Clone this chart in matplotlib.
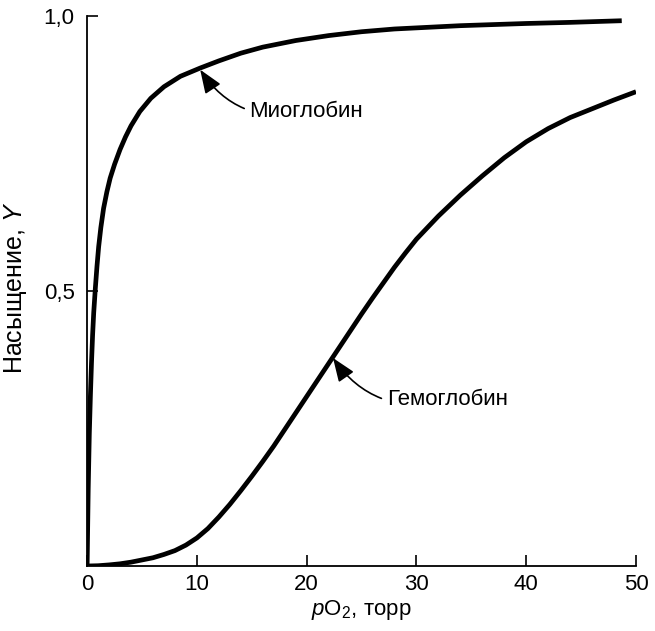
import numpy as np
import matplotlib
matplotlib.use("Agg")
import matplotlib.pyplot as plt

plt.rcParams['font.family'] = ['Liberation Sans', 'DejaVu Sans']
plt.rcParams['mathtext.fontset'] = 'custom'
plt.rcParams['mathtext.rm'] = 'Liberation Sans'
plt.rcParams['mathtext.it'] = 'Liberation Sans:italic'

# --- data (pO2 in torr, saturation Y) ---
mb_p = [0, 0.1, 0.2, 0.3, 0.4, 0.5, 0.6, 0.75, 0.9, 1.05, 1.25, 1.5, 1.8, 2.1,
        2.5, 3.0, 3.5, 4.0, 4.8, 5.8, 7.0, 8.5, 10.3, 12, 14, 16, 19, 22, 25,
        28, 31, 34, 37, 40, 44, 48.7]
mb_y = [0, 0.14, 0.24, 0.31, 0.37, 0.42, 0.46, 0.505, 0.545, 0.58, 0.615, 0.65,
        0.68, 0.705, 0.73, 0.757, 0.78, 0.80, 0.826, 0.85, 0.871, 0.89, 0.905,
        0.918, 0.932, 0.943, 0.955, 0.964, 0.971, 0.976, 0.979, 0.982, 0.984,
        0.986, 0.988, 0.991]

hb_p = [0, 1, 2, 3, 4, 5, 6, 7, 8, 9, 10, 11, 12, 13, 14, 15, 16, 17, 18, 19,
        20, 21, 22, 23, 24, 25, 26, 27, 28, 29, 30, 32, 34, 36, 38, 40, 42, 44,
        46, 48, 50]
hb_y = [0, 0.0005, 0.002, 0.004, 0.007, 0.011, 0.015, 0.021, 0.028, 0.038,
        0.051, 0.068, 0.089, 0.112, 0.137, 0.163, 0.19, 0.218, 0.248, 0.278,
        0.308, 0.338, 0.368, 0.398, 0.428, 0.458, 0.487, 0.515, 0.543, 0.569,
        0.594, 0.636, 0.674, 0.709, 0.742, 0.771, 0.795, 0.815, 0.831, 0.847,
        0.862]

x_ticks = [0, 10, 20, 30, 40, 50]
y_ticks = [0.5, 1.0]
y_tick_labels = ['0,5', '1,0']

fs = 16

fig = plt.figure(figsize=(6.55, 6.31), dpi=100)
ax = fig.add_axes([0.133, 0.103, 0.838, 0.872])

ax.plot(mb_p, mb_y, color='black', lw=3.4, solid_capstyle='butt', solid_joinstyle='round')
ax.plot(hb_p, hb_y, color='black', lw=3.4, solid_capstyle='butt', solid_joinstyle='round')

ax.set_xlim(0, 50)
ax.set_ylim(0, 1.0)
ax.spines['top'].set_visible(False)
ax.spines['right'].set_visible(False)
for s in ['left', 'bottom']:
    ax.spines[s].set_linewidth(1.3)

ax.set_xticks(x_ticks)
ax.set_yticks(y_ticks)
ax.set_yticklabels(y_tick_labels)
ax.tick_params(axis='x', direction='in', length=8, width=1.2, labelsize=fs, pad=6)
ax.tick_params(axis='y', direction='in', length=8, width=1.2, labelsize=fs, pad=9)

ax.set_xlabel(r'$\it{p}$O$_2$, торр', fontsize=fs, labelpad=2)
ax.set_ylabel(r'Насыщение, $\it{Y}$', fontsize=18)
ax.yaxis.set_label_coords(-0.105, 0.505)

arrow = dict(arrowstyle='-|>,head_length=0.9,head_width=0.35', color='black', lw=1.2,
             shrinkA=2, shrinkB=0, connectionstyle='arc3,rad=-0.35')
ax.annotate('Миоглобин', xy=(10.3, 0.902), xytext=(14.8, 0.826),
            fontsize=fs, va='center', ha='left', arrowprops=arrow)
ax.annotate('Гемоглобин', xy=(22.4, 0.378), xytext=(27.3, 0.302),
            fontsize=fs, va='center', ha='left', arrowprops=arrow)

fig.savefig('out.png', dpi=100)
